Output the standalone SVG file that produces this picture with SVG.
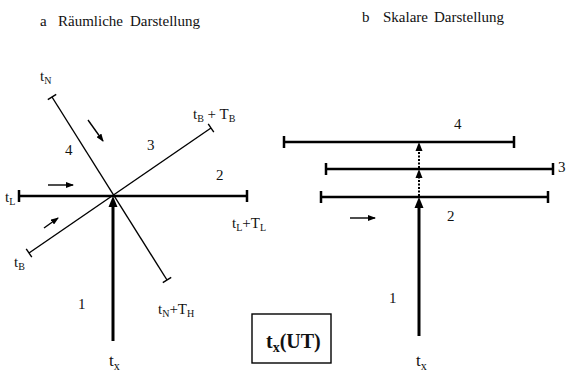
<svg xmlns="http://www.w3.org/2000/svg" width="566" height="374" viewBox="0 0 566 374">
<defs>
<style>
text{font-family:"Liberation Serif","Times New Roman",serif;fill:#111;font-size:15px}
.t{font-size:15px}
.sub{font-size:10px}
.thin{stroke:#000;stroke-width:1.4;fill:none}
.thick{stroke:#000;stroke-width:3;fill:none}
.bar{stroke:#000;stroke-width:2.5;fill:none}
.dot{stroke:#000;stroke-width:2;stroke-dasharray:2 1.5;fill:none}
.head{fill:#000}
</style>
<marker id="ah" markerWidth="8" markerHeight="6" refX="7" refY="3" orient="auto" markerUnits="userSpaceOnUse">
<path d="M0,0 L8,3 L0,6 Z" fill="#000"/>
</marker>
</defs>
<g id="titles">
<text x="40" y="26" class="t">a</text>
<text x="58" y="26" class="t">Räumliche</text>
<text x="130" y="26" class="t">Darstellung</text>
<text x="362" y="22" class="t">b</text>
<text x="383" y="22" class="t">Skalare</text>
<text x="434" y="22" class="t">Darstellung</text>
</g>
<g id="connectors">
<line class="thin" x1="52" y1="97" x2="167" y2="280"/>
<line class="thin" x1="47.8" y1="99.7" x2="56.2" y2="94.3"/>
<line class="thin" x1="162.8" y1="282.7" x2="171.2" y2="277.3"/>
<line class="thin" x1="29" y1="253" x2="211" y2="128"/>
<line class="thin" x1="26.2" y1="248.9" x2="31.8" y2="257.1"/>
<line class="thin" x1="208.2" y1="123.9" x2="213.8" y2="132.1"/>
<line class="bar" x1="19" y1="196" x2="247" y2="196"/>
<line class="bar" x1="19" y1="190" x2="19" y2="202"/>
<line class="bar" x1="247" y1="190" x2="247" y2="202"/>
<line class="thick" x1="113" y1="205" x2="113" y2="341"/>
<path class="head" d="M113,196 L117.5,207 L108.5,207 Z"/>
<line class="thin" x1="88" y1="120" x2="103" y2="141" marker-end="url(#ah)"/>
<line class="thin" x1="48" y1="185" x2="73" y2="185" marker-end="url(#ah)"/>
<line class="thin" x1="44" y1="228" x2="58" y2="218" marker-end="url(#ah)"/>
<line class="bar" x1="284" y1="142" x2="514" y2="142"/>
<line class="bar" x1="284" y1="136" x2="284" y2="148"/>
<line class="bar" x1="514" y1="136" x2="514" y2="148"/>
<line class="bar" x1="326" y1="169" x2="553" y2="169"/>
<line class="bar" x1="326" y1="163" x2="326" y2="175"/>
<line class="bar" x1="553" y1="163" x2="553" y2="175"/>
<line class="bar" x1="321" y1="197" x2="548" y2="197"/>
<line class="bar" x1="321" y1="191" x2="321" y2="203"/>
<line class="bar" x1="548" y1="191" x2="548" y2="203"/>
<line class="thick" x1="419" y1="206" x2="419" y2="336"/>
<path class="head" d="M419,197 L423.5,208 L414.5,208 Z"/>
<line class="dot" x1="419" y1="196" x2="419" y2="177"/>
<path class="head" d="M419,169 L422.5,178 L415.5,178 Z"/>
<line class="dot" x1="419" y1="168" x2="419" y2="150"/>
<path class="head" d="M419,142 L422.5,151 L415.5,151 Z"/>
<line class="thin" x1="350" y1="218" x2="375" y2="218" marker-end="url(#ah)"/>
</g>
<g id="left-labels">
<text x="40" y="81">t<tspan class="sub" dy="3">N</tspan></text>
<text x="193" y="119">t<tspan class="sub" dy="3">B</tspan><tspan dy="-3"> + T</tspan><tspan class="sub" dy="3">B</tspan></text>
<text x="147" y="150">3</text>
<text x="65" y="155">4</text>
<text x="216" y="180">2</text>
<text x="5" y="202">t<tspan class="sub" dy="3">L</tspan></text>
<text x="232" y="228">t<tspan class="sub" dy="3">L</tspan><tspan dy="-3">+T</tspan><tspan class="sub" dy="3">L</tspan></text>
<text x="14" y="267">t<tspan class="sub" dy="3">B</tspan></text>
<text x="78" y="309">1</text>
<text x="158" y="314">t<tspan class="sub" dy="3">N</tspan><tspan dy="-3">+T</tspan><tspan class="sub" dy="3">H</tspan></text>
<text x="109" y="366" style="font-size:17px">t<tspan class="sub" dy="4" style="font-size:12px">x</tspan></text>
</g>
<g id="box">
<rect x="252" y="314" width="79" height="49" fill="#fff" stroke="#000" stroke-width="1.4"/>
<text x="266" y="348" style="font-size:20px;font-weight:bold">t<tspan dy="4" style="font-size:14px">x</tspan><tspan dy="-4">(UT)</tspan></text>
</g>
<g id="right-labels">
<text x="454" y="129">4</text>
<text x="558" y="172">3</text>
<text x="447" y="221">2</text>
<text x="389" y="303">1</text>
<text x="416" y="366" style="font-size:17px">t<tspan class="sub" dy="4" style="font-size:12px">x</tspan></text>
</g>
</svg>
